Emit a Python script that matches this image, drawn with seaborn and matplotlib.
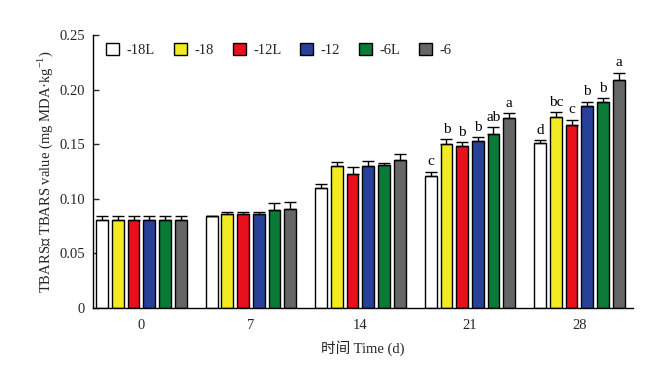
import numpy as np
import pandas as pd
import matplotlib
matplotlib.use("Agg")
import matplotlib.pyplot as plt
import seaborn as sns

days = ["0", "7", "14", "21", "28"]
groups = ["-18L", "-18", "-12L", "-12", "-6L", "-6"]
colors = ["#FFFFFF", "#F2EA22", "#E8101C", "#27419A", "#0A7A38", "#666666"]

v_18L = [0.081, 0.084, 0.110, 0.121, 0.151]
v_18 = [0.081, 0.086, 0.130, 0.150, 0.175]
v_12L = [0.081, 0.086, 0.123, 0.148, 0.168]
v_12 = [0.081, 0.086, 0.130, 0.153, 0.185]
v_6L = [0.081, 0.0895, 0.131, 0.159, 0.189]
v_6 = [0.081, 0.091, 0.1355, 0.174, 0.209]

e_18L = [0.003, 0.0005, 0.004, 0.004, 0.003]
e_18 = [0.003, 0.002, 0.004, 0.005, 0.0045]
e_12L = [0.003, 0.002, 0.006, 0.004, 0.0045]
e_12 = [0.003, 0.002, 0.005, 0.0035, 0.004]
e_6L = [0.003, 0.0065, 0.002, 0.0065, 0.003]
e_6 = [0.003, 0.006, 0.0055, 0.0045, 0.0065]

letters_21 = ["c", "b", "b", "b", "ab", "a"]
letters_28 = ["d", "bc", "c", "b", "b", "a"]

vals = [v_18L, v_18, v_12L, v_12, v_6L, v_6]
errs = [e_18L, e_18, e_12L, e_12, e_6L, e_6]

rows = []
for g, vs, es in zip(groups, vals, errs):
    for d, v, e in zip(days, vs, es):
        rows.append({"day": d, "group": g, "value": v, "err": e})
df = pd.DataFrame(rows)

sns.set_style("ticks")
fam = ["Liberation Serif", "Noto Sans CJK SC"]
plt.rcParams["font.family"] = fam
plt.rcParams["axes.unicode_minus"] = False
plt.rcParams["mathtext.fontset"] = "custom"
plt.rcParams["mathtext.rm"] = "Liberation Serif"

FS = 10.5

fig = plt.figure(figsize=(6.52, 3.77), dpi=100)
ax = fig.add_axes([0.143, 0.183, 0.828, 0.724])

sns.barplot(data=df, x="day", y="value", hue="group", order=days, hue_order=groups,
            palette=colors, saturation=1, width=0.86, gap=0.25, errorbar=None,
            edgecolor="black", linewidth=1.0, ax=ax, legend=True)

labels_map = {"21": letters_21, "28": letters_28}
for gi, (cont, g) in enumerate(zip(ax.containers, groups)):
    sub = df[df["group"] == g].set_index("day").loc[days]
    for di, (bar, d) in enumerate(zip(cont.patches, days)):
        x = bar.get_x() + bar.get_width() / 2
        h = bar.get_height()
        e = sub.loc[d, "err"]
        ax.errorbar(x, h, yerr=[[0], [e]], fmt="none", ecolor="black",
                    elinewidth=1.0, capsize=4, capthick=1.0, zorder=3)
        if d in labels_map:
            ax.text(x, h + e + 0.003, labels_map[d][gi], ha="center", va="bottom",
                    fontsize=11, color="black", family=fam)

ax.set_ylim(0, 0.25)
ax.set_xlim(-0.44, 4.49)
ax.set_yticks([0, 0.05, 0.10, 0.15, 0.20, 0.25])
ax.set_yticklabels(["0", "0.05", "0.10", "0.15", "0.20", "0.25"])
ax.tick_params(axis="y", direction="in", length=4, width=1, labelsize=FS, pad=6)
ax.tick_params(axis="x", length=0, labelsize=FS, pad=8)
for s in ["top", "right"]:
    ax.spines[s].set_visible(False)
for s in ["left", "bottom"]:
    ax.spines[s].set_linewidth(1.0)
    ax.spines[s].set_color("black")

ax.set_xlabel("时间 Time (d)", fontsize=FS, family=fam, labelpad=6)
ax.set_ylabel("TBARS值 TBARS value (mg MDA·kg$^{-1}$)", fontsize=FS, family=fam, labelpad=3)

leg = ax.legend(loc="upper left", ncol=6, frameon=False, bbox_to_anchor=(0.0, 1.02),
                handlelength=0.9, handleheight=0.9, handletextpad=0.5,
                columnspacing=1.3, fontsize=FS)
for t in leg.get_texts():
    t.set_family(fam)

fig.savefig("out.png", dpi=100)
